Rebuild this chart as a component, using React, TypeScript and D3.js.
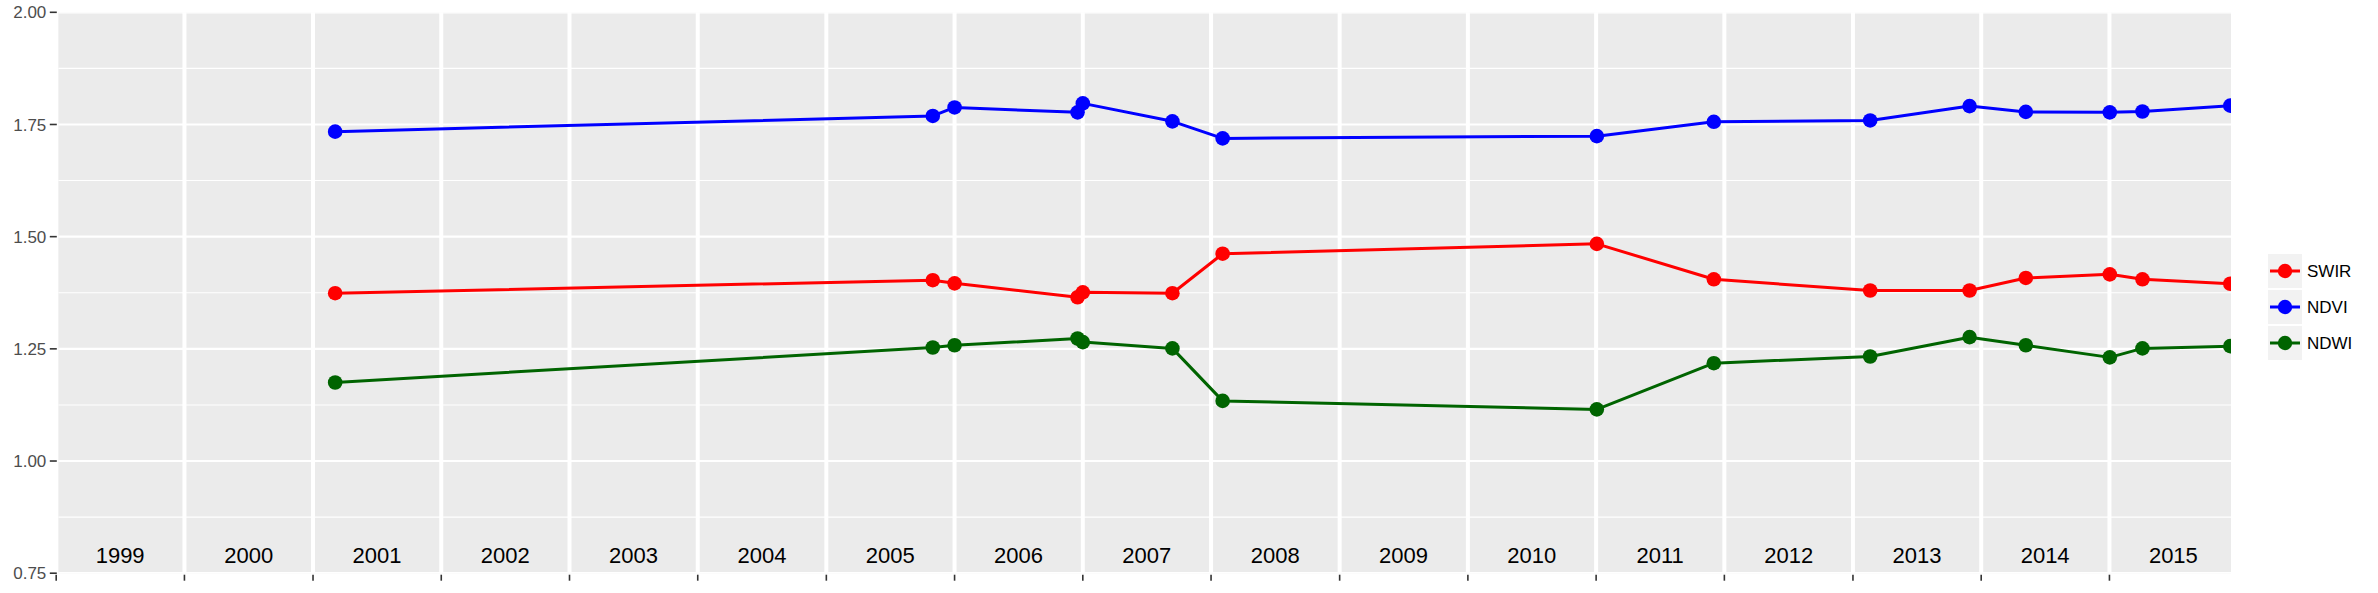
import React from "react";
import * as d3 from "d3";

// ---- data ----
const dates = [
  "2001-03-05", "2005-10-31", "2006-01-01", "2006-12-17", "2007-01-01",
  "2007-09-13", "2008-02-03", "2011-01-03", "2011-12-02", "2013-02-19",
  "2013-11-29", "2014-05-08", "2015-01-02", "2015-04-05", "2015-12-11",
];
const swir = [1.374, 1.403, 1.396, 1.365, 1.376, 1.374, 1.462, 1.484, 1.405, 1.380, 1.380, 1.408, 1.416, 1.405, 1.395];
const ndvi = [1.734, 1.769, 1.788, 1.777, 1.797, 1.757, 1.719, 1.724, 1.756, 1.759, 1.791, 1.778, 1.777, 1.779, 1.792];
const ndwi = [1.175, 1.253, 1.258, 1.273, 1.265, 1.251, 1.134, 1.115, 1.218, 1.233, 1.276, 1.258, 1.231, 1.251, 1.256];
const seriesNames = ["SWIR", "NDVI", "NDWI"];
const seriesColors = ["#FF0000", "#0000FF", "#006400"];
const yearLabels = ["1999", "2000", "2001", "2002", "2003", "2004", "2005", "2006", "2007", "2008", "2009", "2010", "2011", "2012", "2013", "2014", "2015"];
const yMajor = [0.75, 1.0, 1.25, 1.5, 1.75, 2.0];
const yMinor = [0.875, 1.125, 1.375, 1.625, 1.875];
const xDomain = ["1999-01-07", "2015-12-13"];

const W = 2378;
const H = 593;
const PL = 58.3, PR = 2231, PT = 12.3, PB = 573.2;
const FONT = "'Liberation Sans', Arial, Helvetica, sans-serif";

export default function App() {
  const parse = d3.timeParse("%Y-%m-%d");
  const x = d3.scaleTime().domain(xDomain.map((d) => parse(d) as Date)).range([PL, PR]);
  const y = d3.scaleLinear().domain([0.75, 2.0]).range([PB, PT]);
  const seriesVals = [swir, ndvi, ndwi];
  const ds = dates.map((d) => parse(d) as Date);
  const line = d3
    .line<[Date, number]>()
    .x((d) => x(d[0]))
    .y((d) => y(d[1]));

  const legendX = 2268;
  const legendY = 254;
  const keySize = 34;
  const keyGap = 2;

  return (
    <div style={{ position: "fixed", left: 0, top: 0, width: W, height: H, background: "#fff" }}>
      <svg width={W} height={H} style={{ display: "block" }} fontFamily={FONT}>
        <defs>
          <clipPath id="panel">
            <rect x={PL} y={PT} width={PR - PL} height={PB - PT} />
          </clipPath>
        </defs>
        <rect x={0} y={0} width={W} height={H} fill="#fff" />
        <rect x={PL} y={PT} width={PR - PL} height={PB - PT} fill="#EBEBEB" />
        <g clipPath="url(#panel)">
          {yMinor.map((v) => (
            <line key={"mn" + v} x1={PL} x2={PR} y1={y(v)} y2={y(v)} stroke="#fff" strokeWidth={1.1} />
          ))}
          {yMajor.map((v) => (
            <line key={"mj" + v} x1={PL} x2={PR} y1={y(v)} y2={y(v)} stroke="#fff" strokeWidth={2.2} />
          ))}
          {yearLabels.map((yr) => {
            const xv = x(new Date(+yr, 0, 1));
            return <line key={"vg" + yr} x1={xv} x2={xv} y1={PT} y2={PB} stroke="#fff" strokeWidth={4} />;
          })}
          {yearLabels.map((yr) => (
            <text
              key={"yl" + yr}
              x={x(new Date(+yr, 6, 2))}
              y={562.5}
              textAnchor="middle"
              fontSize={22}
              fill="#000"
            >
              {yr}
            </text>
          ))}
          {seriesVals.map((vals, i) => (
            <g key={"s" + i}>
              <path
                d={line(ds.map((d, j) => [d, vals[j]] as [Date, number])) || ""}
                fill="none"
                stroke={seriesColors[i]}
                strokeWidth={3}
                strokeLinejoin="round"
              />
              {ds.map((d, j) => (
                <circle key={j} cx={x(d)} cy={y(vals[j])} r={7.3} fill={seriesColors[i]} />
              ))}
            </g>
          ))}
        </g>
        {/* y axis */}
        {yMajor.map((v) => (
          <g key={"yt" + v}>
            <line x1={PL - 8.5} x2={PL - 1.5} y1={y(v)} y2={y(v)} stroke="#333" strokeWidth={1.6} />
            <text x={PL - 12} y={y(v)} dy="0.36em" textAnchor="end" fontSize={17} fill="#4D4D4D">
              {d3.format(".2f")(v)}
            </text>
          </g>
        ))}
        {/* x ticks */}
        {yearLabels.map((yr) => {
          const xv = x(new Date(+yr, 0, 1));
          return <line key={"xt" + yr} x1={xv} x2={xv} y1={PB + 1.5} y2={PB + 7.5} stroke="#333" strokeWidth={1.6} />;
        })}
        {/* legend */}
        {seriesNames.map((name, i) => {
          const ky = legendY + i * (keySize + keyGap);
          const cy = ky + keySize / 2;
          return (
            <g key={"lg" + name}>
              <rect x={legendX} y={ky} width={keySize} height={keySize} fill="#F2F2F2" />
              <line x1={legendX + 2} x2={legendX + keySize - 2} y1={cy} y2={cy} stroke={seriesColors[i]} strokeWidth={3} />
              <circle cx={legendX + keySize / 2} cy={cy} r={7.2} fill={seriesColors[i]} />
              <text x={legendX + keySize + 5} y={cy} dy="0.36em" fontSize={17} fill="#000">
                {name}
              </text>
            </g>
          );
        })}
      </svg>
    </div>
  );
}
